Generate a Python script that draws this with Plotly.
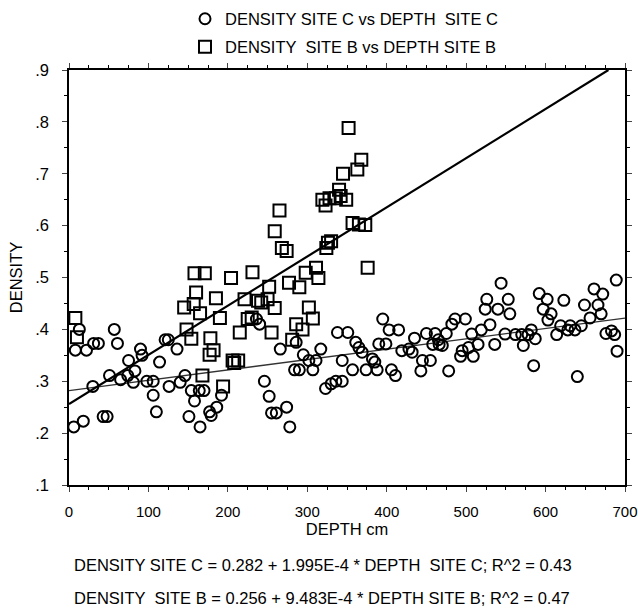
import plotly.graph_objects as go

# ---- data ----
depth_c = [6, 18, 43, 48, 30, 51, 65, 74, 83, 81, 98, 106, 106, 110, 114, 126, 146, 140, 154, 158,
           151, 165, 164, 170, 177, 179, 186, 192, 13, 8, 22, 31, 37, 57, 61, 75, 90, 92, 121, 125,
           136, 246, 252, 255, 261, 240, 236, 266, 286, 295, 317, 302, 311, 284, 290, 307, 274, 278,
           323, 330, 336, 344, 338, 351, 361, 365, 369, 344, 357, 374, 388, 382, 385, 395, 403, 415,
           390, 399, 406, 411, 419, 428, 432, 435, 445, 455, 443, 450, 461, 475, 458, 466, 478, 482,
           486, 499, 495, 503, 465, 470, 493, 509, 507, 519, 515, 530, 526, 524, 540, 544, 553, 555,
           536, 549, 562, 570, 578, 582, 572, 587, 585, 592, 602, 597, 607, 603, 614, 619, 631, 623,
           628, 637, 640, 649, 645, 656, 661, 672, 666, 670, 676, 683, 687, 689, 690]
density_c = [0.212, 0.223, 0.232, 0.232, 0.290, 0.311, 0.303, 0.311, 0.320, 0.298, 0.300, 0.300, 0.273,
             0.241, 0.337, 0.290, 0.311, 0.298, 0.282, 0.262, 0.232, 0.212, 0.282, 0.282, 0.241, 0.234,
             0.250, 0.273, 0.400, 0.360, 0.360, 0.373, 0.373, 0.400, 0.373, 0.340, 0.362, 0.350, 0.380,
             0.380, 0.362, 0.300, 0.271, 0.239, 0.239, 0.410, 0.420, 0.362, 0.375, 0.351, 0.362, 0.340,
             0.340, 0.322, 0.322, 0.322, 0.250, 0.212, 0.286, 0.295, 0.300, 0.300, 0.394, 0.394, 0.375,
             0.365, 0.356, 0.340, 0.322, 0.322, 0.322, 0.343, 0.337, 0.420, 0.399, 0.399, 0.372, 0.372,
             0.322, 0.311, 0.359, 0.362, 0.356, 0.383, 0.340, 0.340, 0.320, 0.392, 0.392, 0.392, 0.371,
             0.371, 0.320, 0.410, 0.420, 0.420, 0.359, 0.365, 0.380, 0.369, 0.348, 0.348, 0.391, 0.399,
             0.371, 0.409, 0.458, 0.439, 0.439, 0.489, 0.458, 0.430, 0.371, 0.391, 0.390, 0.390, 0.390,
             0.399, 0.369, 0.382, 0.330, 0.469, 0.458, 0.439, 0.430, 0.418, 0.390, 0.407, 0.407, 0.456,
             0.399, 0.399, 0.309, 0.447, 0.407, 0.422, 0.478, 0.468, 0.447, 0.430, 0.392, 0.397, 0.390,
             0.495, 0.358]

depth_b = [8, 10, 168, 194, 208, 148, 154, 145, 157, 165, 160, 158, 171, 190, 185, 204, 231, 178, 182,
           177, 206, 213, 215, 221, 225, 230, 238, 242, 250, 252, 255, 259, 259, 268, 274, 352, 368,
           363, 345, 340, 319, 328, 336, 349, 323, 342, 265, 357, 365, 373, 326, 330, 324, 376, 298,
           311, 314, 277, 290, 302, 307, 286, 294, 281]
density_b = [0.422, 0.385, 0.311, 0.290, 0.335, 0.400, 0.382, 0.442, 0.449, 0.431, 0.471, 0.508, 0.508,
             0.422, 0.460, 0.499, 0.510, 0.383, 0.360, 0.351, 0.340, 0.340, 0.394, 0.458, 0.420, 0.423,
             0.455, 0.452, 0.458, 0.482, 0.394, 0.589, 0.441, 0.557, 0.551, 0.788, 0.727, 0.708, 0.700,
             0.669, 0.650, 0.653, 0.653, 0.650, 0.639, 0.657, 0.629, 0.605, 0.602, 0.601, 0.567, 0.570,
             0.557, 0.519, 0.509, 0.519, 0.499, 0.490, 0.481, 0.442, 0.421, 0.410, 0.400, 0.380]

# regression coefficients (from the printed equations)
int_c, slope_c = 0.282, 1.995e-4
int_b, slope_b = 0.256, 9.483e-4

x_ticks = [0, 100, 200, 300, 400, 500, 600, 700]
y_ticks = [0.1, 0.2, 0.3, 0.4, 0.5, 0.6, 0.7, 0.8, 0.9]
y_ticklabels = [".1", ".2", ".3", ".4", ".5", ".6", ".7", ".8", ".9"]

eq_c = "DENSITY SITE C = 0.282 + 1.995E-4 * DEPTH  SITE C; R^2 = 0.43"
eq_b = "DENSITY  SITE B = 0.256 + 9.483E-4 * DEPTH SITE B; R^2 = 0.47"

FONT = "Liberation Sans, Arial, sans-serif"
FS = 16.5
TICK_FS = 15

# line end points derived from the equations
xb_end = (0.9 - int_b) / slope_b
line_c_x = [0, 700]
line_c_y = [int_c + slope_c * v for v in line_c_x]
line_b_x = [0, xb_end]
line_b_y = [int_b + slope_b * v for v in line_b_x]

fig = go.Figure()
fig.add_trace(go.Scatter(x=line_c_x, y=line_c_y, mode="lines",
                         line=dict(color="#333333", width=1.4), showlegend=False, hoverinfo="skip"))
fig.add_trace(go.Scatter(x=line_b_x, y=line_b_y, mode="lines",
                         line=dict(color="black", width=2.2), showlegend=False, hoverinfo="skip"))
fig.add_trace(go.Scatter(x=depth_c, y=density_c, mode="markers", name="DENSITY SITE C vs DEPTH  SITE C",
                         marker=dict(symbol="circle-open", size=11, color="black", line=dict(width=2)),
                         cliponaxis=False, legend="legend"))
fig.add_trace(go.Scatter(x=depth_b, y=density_b, mode="markers", name="DENSITY  SITE B vs DEPTH SITE B",
                         marker=dict(symbol="square-open", size=12, color="black", line=dict(width=2)),
                         cliponaxis=False, legend="legend2"))

W, H = 638, 608
L, R, T, B = 69, 13, 70, 123
pw, ph = W - L - R, H - T - B

def px_x(p):
    return (p - L) / pw

def px_y(p):
    return 1 + (T - p) / ph

fig.update_layout(
    width=W, height=H,
    margin=dict(l=L, r=R, t=T, b=B, autoexpand=False),
    paper_bgcolor="white", plot_bgcolor="white",
    font=dict(family=FONT, size=FS, color="black"),
    legend=dict(x=px_x(185), y=px_y(19), xanchor="left", yanchor="middle",
                font=dict(family=FONT, size=FS), bgcolor="rgba(0,0,0,0)"),
    legend2=dict(x=px_x(185), y=px_y(47), xanchor="left", yanchor="middle",
                 font=dict(family=FONT, size=FS), bgcolor="rgba(0,0,0,0)"),
    xaxis=dict(range=[0, 700], tickvals=x_ticks, ticks="outside", ticklen=5, tickwidth=1.2,
               showline=True, linecolor="black", linewidth=1.6, mirror="ticks",
               showgrid=False, zeroline=False, ticklabelstandoff=7, ticklabeloverflow="allow",
               tickfont=dict(size=TICK_FS),
               minor=dict(dtick=25, ticks="outside", ticklen=3, tickwidth=1, tickcolor="black"),
               title=dict(text="DEPTH cm", standoff=4, font=dict(size=FS))),
    yaxis=dict(range=[0.1, 0.9], tickvals=y_ticks, ticktext=y_ticklabels, ticks="outside",
               ticklen=5, tickwidth=1.2, tickfont=dict(size=FS),
               showline=True, linecolor="black", linewidth=1.6, mirror="ticks",
               showgrid=False, zeroline=False, ticklabelstandoff=10,
               minor=dict(dtick=0.05, ticks="outside", ticklen=3, tickwidth=1, tickcolor="black"),
               title=dict(text="DENSITY", standoff=8, font=dict(size=FS))),
    annotations=[
        dict(text=eq_c, xref="paper", yref="paper", x=px_x(72), y=px_y(565),
             xanchor="left", yanchor="middle", showarrow=False, font=dict(size=FS)),
        dict(text=eq_b, xref="paper", yref="paper", x=px_x(72), y=px_y(598),
             xanchor="left", yanchor="middle", showarrow=False, font=dict(size=FS)),
    ],
)

fig.write_html("out.html", config={"displayModeBar": False},
               post_script="document.body.style.margin='0';")
